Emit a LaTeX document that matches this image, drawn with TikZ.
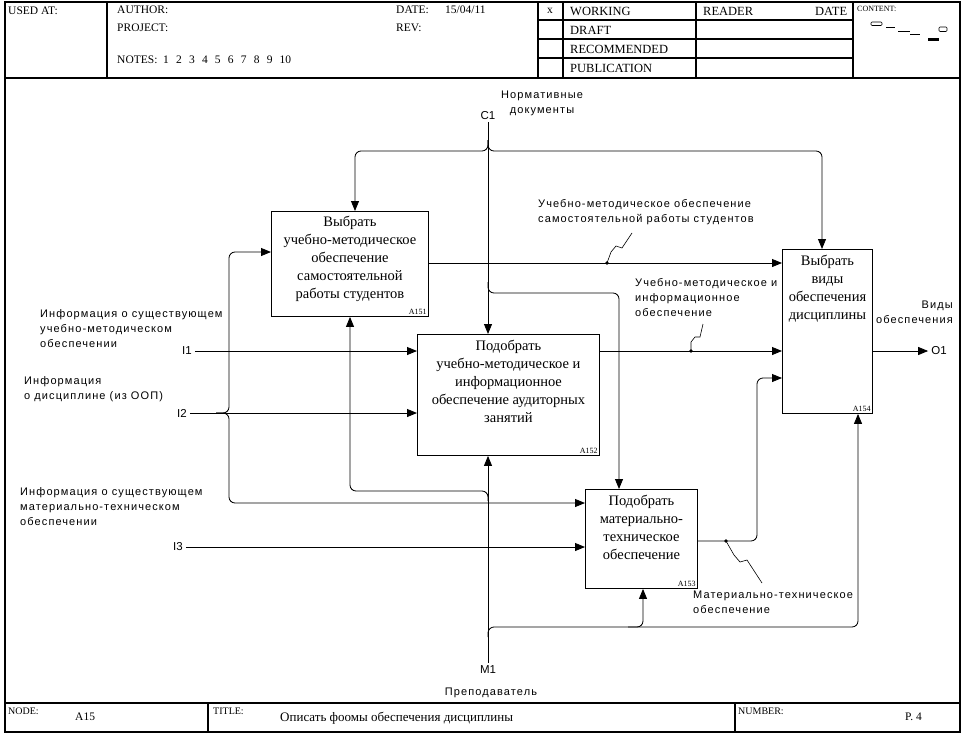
\documentclass[tikz,border=0pt]{standalone}
\usepackage{fontspec}
\setmainfont{Liberation Serif}
\newfontfamily\lsans[LetterSpace=10]{Liberation Sans}
\newfontfamily\lsanstight{Liberation Sans}
\usetikzlibrary{arrows.meta,calc}
\newcommand{\ngap}{\hspace{7.2pt}}
\begin{document}
\begin{tikzpicture}[x=1pt,y=-1pt,
  frame/.style={line width=1.3pt},
  hline/.style={line width=1.1pt},
  conn/.style={line width=0.85pt, rounded corners=6pt},
  arr/.style={conn, -{Triangle[length=10pt,width=8pt]}},
  box/.style={draw, line width=0.9pt, anchor=north west, inner sep=0pt},
  boxtext/.style={anchor=north, align=center, inner sep=0pt, font=\fontsize{14.5}{18}\selectfont},
  idtext/.style={anchor=south east, inner sep=2pt, font=\fontsize{8}{9}\selectfont},
  lab/.style={inner sep=0pt, font=\lsans\fontsize{11}{15}\selectfont},
  pin/.style={inner sep=0pt, font=\lsanstight\fontsize{11.5}{13}\selectfont},
  hdr/.style={anchor=west, inner sep=0pt, font=\fontsize{11.5}{13}\selectfont},
  squig/.style={line width=0.6pt}
]
\useasboundingbox (0,0) rectangle (974,742);

% ---------- frame ----------
\draw[frame] (5,2) rectangle (960,732);
\draw[frame] (5,78) -- (960,78);
\draw[frame] (5,703) -- (960,703);
\draw[hline] (107,2) -- (107,78);
\draw[hline] (538,2) -- (538,78);
\draw[hline] (563,2) -- (563,78);
\draw[hline] (696,2) -- (696,78);
\draw[hline] (853,2) -- (853,78);
\draw[hline] (538,20) -- (853,20);
\draw[hline] (538,39) -- (853,39);
\draw[hline] (538,58) -- (853,58);
\draw[hline] (208,703) -- (208,732);
\draw[hline] (735,703) -- (735,732);

% ---------- header text ----------
\node[hdr] (usedat) at (8,11) {USED AT:};
\node[hdr] (author) at (117,10) {AUTHOR:};
\node[hdr] (project) at (117,28) {PROJECT:};
\node[hdr] (notes) at (117,60) {NOTES:\ \ 1\ngap 2\ngap 3\ngap 4\ngap 5\ngap 6\ngap 7\ngap 8\ngap 9\ngap 10};
\node[hdr] (date) at (396,10) {DATE:};
\node[hdr] (dateval) at (445,10) {15/04/11};
\node[hdr] (rev) at (396,28) {REV:};
\node[hdr] (xmark) at (547,11) {x};
\node[hdr, font=\fontsize{12.5}{14}\selectfont] (working) at (570,11) {WORKING};
\node[hdr, font=\fontsize{12.5}{14}\selectfont] (draft) at (570,30) {DRAFT};
\node[hdr, font=\fontsize{12.5}{14}\selectfont] (recommended) at (570,49) {RECOMMENDED};
\node[hdr, font=\fontsize{12.5}{14}\selectfont] (publication) at (570,68) {PUBLICATION};
\node[hdr, font=\fontsize{12.5}{14}\selectfont] (reader) at (703,11) {READER};
\node[hdr, font=\fontsize{12.5}{14}\selectfont] (rdate) at (815,11) {DATE};
\node[hdr, font=\fontsize{8}{9}\selectfont] (content) at (857,9) {CONTENT:};
% context thumbnail
\draw[line width=0.6pt, rounded corners=1pt] (871,22) rectangle (882,25.5);
\draw[line width=0.8pt] (886,27) -- (895,27);
\draw[line width=1pt] (898,31) -- (910,31);
\draw[line width=1pt] (910,34) -- (920,34);
\fill (928,37.5) rectangle (939,41);
\draw[line width=0.6pt, rounded corners=1pt] (939,27) rectangle (947,31.5);

% ---------- footer text ----------
\node[hdr, font=\fontsize{10}{12}\selectfont] (nodelbl) at (8,711) {NODE:};
\node[hdr] (nodeval) at (75,717) {A15};
\node[hdr, font=\fontsize{10}{12}\selectfont] (titlelbl) at (213,711) {TITLE:};
\node[hdr, font=\fontsize{13}{15}\selectfont] (titleval) at (280,718) {Описать фоомы обеспечения дисциплины};
\node[hdr, font=\fontsize{10}{12}\selectfont] (numberlbl) at (738,711) {NUMBER:};
\node[hdr] (numberval) at (905,717) {P. 4};

% ---------- boxes ----------
\node[box, minimum width=157, minimum height=105] (A151) at (271,211) {};
\node[box, minimum width=182, minimum height=121] (A152) at (417,334) {};
\node[box, minimum width=112, minimum height=99] (A153) at (585,489) {};
\node[box, minimum width=90, minimum height=164] (A154) at (782,249) {};

\node[boxtext] (A151t) at ([yshift=-5pt]A151.north) {Выбрать\\учебно-методическое\\обеспечение\\самостоятельной\\работы студентов};
\node[boxtext] (A152t) at ([yshift=-6pt]A152.north) {Подобрать\\учебно-методическое и\\информационное\\обеспечение аудиторных\\занятий};
\node[boxtext] (A153t) at ([yshift=-6pt]A153.north) {Подобрать\\материально-\\техническое\\обеспечение};
\node[boxtext] (A154t) at ([yshift=-6pt]A154.north) {Выбрать\\виды\\обеспечения\\дисциплины};

\node[idtext] (A151id) at (A151.south east) {A151};
\node[idtext] (A152id) at (A152.south east) {A152};
\node[idtext] (A153id) at (A153.south east) {A153};
\node[idtext] (A154id) at (A154.south east) {A154};

% ---------- boundary labels ----------
\node[pin] (C1) at (488,116) {C1};
\node[lab, align=center] (C1l) at (542,103) {Нормативные\\документы};
\node[pin] (I1) at (187,351) {I1};
\node[pin] (I2) at (182,413) {I2};
\node[pin] (I3) at (178,547) {I3};
\node[pin] (M1) at (488,670) {M1};
\node[pin] (O1) at (939,351) {O1};
\node[lab, align=center] (M1l) at (491,693) {Преподаватель};
\node[lab, anchor=west, align=left] (I1l) at (40,329) {Информация о существующем\\учебно-методическом\\обеспечении};
\node[lab, anchor=west, align=left] (I2l) at (24,389) {Информация\\о дисциплине (из ООП)};
\node[lab, anchor=west, align=left] (I3l) at (20,507) {Информация о существующем\\материально-техническом\\обеспечении};
\node[lab, anchor=east, align=right] (O1l) at (953,312) {Виды\\обеспечения};
\node[lab, anchor=west, align=left] (L1) at (538,212) {Учебно-методическое обеспечение\\самостоятельной работы студентов};
\node[lab, anchor=west, align=left] (L2) at (635,298) {Учебно-методическое и\\информационное\\обеспечение};
\node[lab, anchor=west, align=left] (L3) at (693,602) {Материально-техническое\\обеспечение};

% ---------- controls ----------
\draw[arr] (C1.south) ++(0,2) -- (C1.south |- A152.north);
\draw[arr] (488,140) -- (488,151) -- (355,151) -- (A151.north -| 355,0);
\draw[arr] (488,140) -- (488,151) -- (822,151) -- (A154.north -| 822,0);
\draw[arr] (488,282) -- (488,293) -- (619,293) -- (A153.north -| 619,0);

% ---------- inputs ----------
\draw[arr] (I1.east) ++(3,0) -- (A152.west |- I1.east);
\draw[arr] (I2.east) ++(3,0) -- (A152.west |- I2.east);
\draw[arr] (216,413) -- (229,413) -- (229,252) -- (A151.west |- 0,252);
\draw[arr] (216,413) -- (229,413) -- (229,503) -- (A153.west |- 0,503);
\draw[arr] (I3.east) ++(3,0) -- (A153.west |- I3.east);

% ---------- mechanisms ----------
\draw[arr] (M1.north) ++(0,-3) -- (M1.north |- A152.south);
\draw[arr] (488,501) -- (488,491) -- (350,491) -- (A151.south -| 350,0);
\draw[arr] (488,637) -- (488,627) -- (858,627) -- (A154.south -| 858,0);
\draw[arr] (628,627) -- (643,627) -- (A153.south -| 643,0);

% ---------- outputs ----------
\draw[arr] (A151.east |- 0,263) -- (A154.west |- 0,263);
\draw[arr] (A152.east |- 0,351) -- (A154.west |- 0,351);
\draw[arr] (A153.east |- 0,541) -- (757,541) -- (757,378) -- (A154.west |- 0,378);
\draw[arr] (A154.east |- O1.west) -- ([xshift=-3pt]O1.west);

% ---------- label squiggles ----------
\fill (607,263) circle (1.8);
\draw[squig] (607,263) -- (611,252) -- (616,246) -- (622,248) -- (632,233);
\fill (691,351) circle (1.8);
\draw[squig] (691,351) -- (691,342) -- (695,337) -- (700,337) -- (703,324);
\fill (726,541) circle (1.8);
\draw[squig] (726,541) -- (734,555) -- (740,562) -- (747,560) -- (762,583);
\end{tikzpicture}
\end{document}
